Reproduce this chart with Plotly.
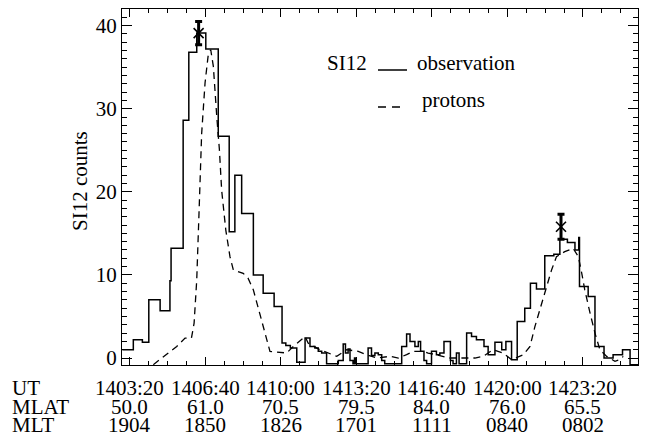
import plotly.graph_objects as go

# ---------------- data (t = seconds after 14:00:00 UT, counts) ----------------
obs_t = [180, 209, 233, 250, 280, 306, 309, 341, 356, 377, 401, 434, 463, 478, 496,
         527, 553, 582, 603, 613, 625, 642, 664, 677, 690, 699, 708, 721, 752, 765,
         771, 778, 783, 791, 795, 797, 831, 840, 849, 858, 867, 875, 920, 933, 942,
         955, 964, 970, 979, 986, 999, 1012, 1021, 1032, 1049, 1056, 1065, 1072, 1092,
         1105, 1118, 1138, 1149, 1167, 1185, 1196, 1211, 1226, 1246, 1261, 1277, 1299,
         1323, 1339, 1359, 1379, 1389, 1391, 1414, 1432, 1456, 1480, 1505, 1525, 1546]
obs_c = [1.0, 2.2, 1.9, 7.0, 5.7, 9.3, 13.2, 28.6, 36.8, 39.1, 37.2, 26.7, 15.2, 22.0, 17.4,
         10.0, 7.8, 6.2, 1.8, 1.5, 1.2, -0.5, 2.4, 1.4, 1.2, 0.8, 0.6, -0.7, -0.3, 1.7,
         0.6, 1.1, -0.3, -0.7, 0.0, -0.7, 1.2, 0.3, 0.6, 0.4, -0.3, -0.7, 1.4, 2.9, 2.0,
         1.4, 2.0, 0.8, -0.3, -0.7, 0.8, 0.4, 0.6, 2.0, -0.3, -0.7, 0.6, -0.7, 3.0,
         2.6, 2.2, 1.4, 0.4, 1.9, 1.0, 2.0, -0.2, 4.4, 6.0, 9.0, 8.3, 12.3,
         12.5, 14.3, 13.9, 13.0, 14.5, 8.6, 7.4, 1.4, 0.0, 0.4, 1.0, -0.8, -0.8]

prot_t = [262, 297, 324, 346, 363, 370, 377, 383, 390, 399, 407, 414, 421, 430, 437, 443,
          454, 465, 474, 500, 513, 527, 544, 562, 571, 615, 633, 664, 672, 703, 748, 774,
          805, 827, 854, 889, 911, 933, 951, 977, 990, 1012, 1043, 1092, 1114, 1136, 1162,
          1189, 1211, 1242, 1260, 1273, 1286, 1304, 1317, 1330, 1352, 1374, 1388, 1397,
          1405, 1419, 1432, 1445, 1463, 1485, 1498, 1507]
prot_c = [-0.8, 0.4, 1.4, 2.4, 2.4, 4.2, 9.4, 17.4, 27.0, 33.1, 36.3, 37.1, 35.1, 29.1, 25.1, 20.2,
          15.4, 12.2, 10.6, 10.2, 9.6, 8.2, 5.4, 2.2, 0.8, 0.6, 1.4, 2.6, 1.8, 1.0, 0.2, 1.0,
          0.8, 0.4, 0.0, 0.2, 0.0, 0.4, 0.8, 0.8, 0.6, 0.4, 0.0, 0.0, 0.0, 0.2, 1.0,
          0.6, -0.2, 0.4, 1.4, 3.8, 5.8, 8.6, 10.6, 12.2, 12.8, 13.2, 12.2, 10.2,
          8.2, 5.4, 3.0, 1.0, 0.2, -0.4, -0.2, 0.2]

peak_t = [382, 1342]
peak_c = [39.1, 15.8]
peak_err = [1.4, 1.5]

ut_labels = ["1403:20", "1406:40", "1410:00", "1413:20", "1416:40", "1420:00", "1423:20"]
ut_pos = [200, 400, 600, 800, 1000, 1200, 1400]
mlat_labels = ["50.0", "61.0", "70.5", "79.5", "84.0", "76.0", "65.5"]
mlt_labels = ["1904", "1850", "1826", "1701", "1111", "0840", "0802"]
row_names = ["UT", "MLAT", "MLT"]

# ---------------- geometry ----------------
W, H = 647, 437
ML, MR, MT, MB = 122, 9, 9, 72
PW, PH = W - ML - MR, H - MT - MB
FONT = "Liberation Serif"
FS = 21


def px(x):
    return (x - ML) / PW


def py(y):
    return (H - MB - y) / PH


fig = go.Figure()
fig.add_trace(go.Scatter(x=obs_t, y=obs_c, mode="lines", line=dict(color="black", width=1.5, shape="hv"),
                         showlegend=False, hoverinfo="skip"))
fig.add_trace(go.Scatter(x=prot_t, y=prot_c, mode="lines",
                         line=dict(color="black", width=1.3, dash="7px,5px"),
                         showlegend=False, hoverinfo="skip"))
fig.add_trace(go.Scatter(x=peak_t, y=peak_c, mode="markers",
                         marker=dict(symbol="x-thin-open", size=10, color="black",
                                     line=dict(width=1.6, color="black")),
                         error_y=dict(type="data", array=peak_err, color="black", thickness=3, width=3.5),
                         showlegend=False, hoverinfo="skip"))

axis_common = dict(showline=True, linecolor="black", linewidth=1.3, mirror="allticks",
                   ticks="inside", tickcolor="black", tickwidth=1.2, showgrid=False, zeroline=False)

fig.update_xaxes(range=[179, 1546], tick0=200, dtick=200, ticklen=8, showticklabels=False,
                 minor=dict(dtick=50, ticks="inside", ticklen=4, tickcolor="black", tickwidth=1, showgrid=False),
                 **axis_common)
fig.update_yaxes(range=[-0.84, 42.0], tick0=0, dtick=10, ticklen=10,
                 tickfont=dict(family=FONT, size=FS, color="black"),
                 minor=dict(dtick=1, ticks="inside", ticklen=5, tickcolor="black", tickwidth=1, showgrid=False),
                 **axis_common)

ann = []
# y title
ann.append(dict(text="SI12 counts", xref="paper", yref="paper", x=px(80), y=py(181), textangle=-90,
                showarrow=False, font=dict(family=FONT, size=FS, color="black"),
                xanchor="center", yanchor="middle"))
# bottom table
row_y = [388, 406.5, 425]
rows = [ut_labels, mlat_labels, mlt_labels]
for name, yy in zip(row_names, row_y):
    ann.append(dict(text=name, xref="paper", yref="paper", x=px(10), y=py(yy), xanchor="left",
                    yanchor="middle", showarrow=False, font=dict(family=FONT, size=FS, color="black")))
for labels, yy in zip(rows, row_y):
    for t, lab in zip(ut_pos, labels):
        ann.append(dict(text=lab, xref="x", yref="paper", x=t, y=py(yy), xanchor="center",
                        yanchor="middle", showarrow=False, font=dict(family=FONT, size=FS, color="black")))
# legend
ann.append(dict(text="SI12", xref="paper", yref="paper", x=px(325), y=py(62.5), xanchor="left",
                yanchor="middle", showarrow=False, font=dict(family=FONT, size=FS, color="black")))
ann.append(dict(text="observation", xref="paper", yref="paper", x=px(415), y=py(62.5), xanchor="left",
                yanchor="middle", showarrow=False, font=dict(family=FONT, size=FS, color="black")))
ann.append(dict(text="protons", xref="paper", yref="paper", x=px(420), y=py(100), xanchor="left",
                yanchor="middle", showarrow=False, font=dict(family=FONT, size=FS, color="black")))

shapes = [
    dict(type="line", xref="paper", yref="paper", x0=px(378), x1=px(407), y0=py(70), y1=py(70),
         line=dict(color="black", width=1.5)),
    dict(type="line", xref="paper", yref="paper", x0=px(378), x1=px(402), y0=py(107), y1=py(107),
         line=dict(color="black", width=1.3, dash="8px,6px")),
]

fig.update_layout(width=W, height=H, autosize=False,
                  margin=dict(l=ML, r=MR, t=MT, b=MB, pad=0),
                  paper_bgcolor="white", plot_bgcolor="white",
                  annotations=ann, shapes=shapes, showlegend=False,
                  font=dict(family=FONT, size=FS, color="black"))

fig.write_html("out.html")
